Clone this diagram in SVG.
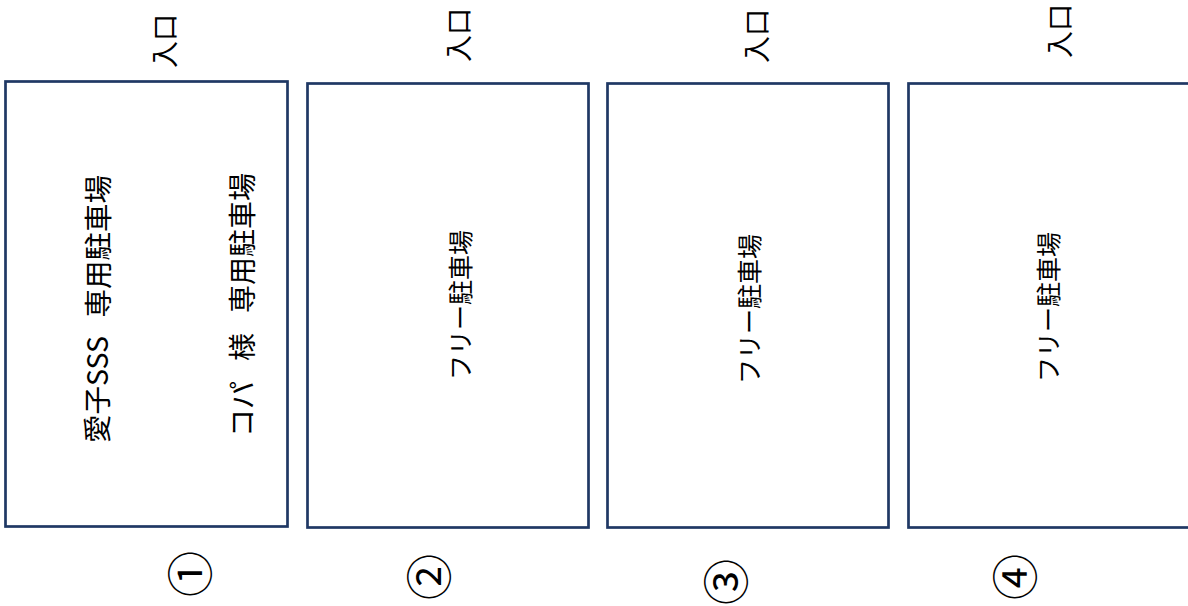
<svg xmlns="http://www.w3.org/2000/svg" width="1188" height="606" viewBox="0 0 1188 606">
<style>
.lot{fill:#ffffff;stroke:#1f3864;stroke-width:2.7}
.t{font-family:"Noto Sans CJK JP","Noto Sans",sans-serif;fill:#000000;text-anchor:middle;dominant-baseline:central}
.big{font-size:28px}
.l1{font-size:28.5px}
.free{font-size:25px}
.ent{font-size:27px}
.num{font-size:46px}
</style>
<rect width="1188" height="606" fill="#ffffff"/>
<g id="lot1">
<rect class="lot" x="5.5" y="81.5" width="282" height="445"/>
<text class="t l1" transform="translate(95.5,309) rotate(-90)">愛子SSS　<tspan dx="-10">専用駐車場</tspan></text>
<text class="t big" transform="translate(240.5,305) rotate(-90)">コパ　<tspan dx="-8">様</tspan>　<tspan dx="-8">専用駐車場</tspan></text>
<text class="t ent" transform="translate(163.5,41) rotate(-90)">入口</text>
<text class="t num" transform="translate(187,574) rotate(-90)">①</text>
</g>
<g id="lot2">
<rect class="lot" x="307.5" y="83.5" width="281" height="444"/>
<text class="t free" transform="translate(459,305) rotate(-90)">フリー駐車場</text>
<text class="t ent" transform="translate(457,35) rotate(-90)">入口</text>
<text class="t num" transform="translate(426,577) rotate(-90)">②</text>
</g>
<g id="lot3">
<rect class="lot" x="607.5" y="83.5" width="281" height="444"/>
<text class="t free" transform="translate(747.5,309) rotate(-90)">フリー駐車場</text>
<text class="t ent" transform="translate(755,36) rotate(-90)">入口</text>
<text class="t num" transform="translate(723,582) rotate(-90)">③</text>
</g>
<g id="lot4">
<rect class="lot" x="908.5" y="83.5" width="290" height="444"/>
<text class="t free" transform="translate(1047,307) rotate(-90)">フリー駐車場</text>
<text class="t ent" transform="translate(1058,31) rotate(-90)">入口</text>
<text class="t num" transform="translate(1012,577) rotate(-90)">④</text>
</g>
<g id="connectors"></g>
</svg>
